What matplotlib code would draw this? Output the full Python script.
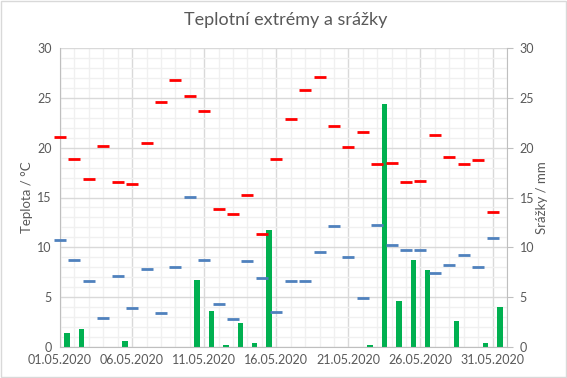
import matplotlib
matplotlib.use("Agg")
import matplotlib.pyplot as plt
from matplotlib.patches import Rectangle
from matplotlib.ticker import MultipleLocator
import numpy as np

# data (01.05.2020 - 31.05.2020)
dates = ["%02d.05.2020" % d for d in range(1, 32)]
t_max = [21.1, 18.9, 16.9, 20.2, 16.6, 16.4, 20.5, 24.6, 26.8, 25.2,
         23.7, 13.8, 13.3, 15.3, 11.3, 18.9, 22.9, 25.8, 27.1, 22.2,
         20.1, 21.6, 18.4, 18.5, 16.6, 16.7, 21.3, 19.1, 18.4, 18.8,
         13.5]
t_min = [10.7, 8.7, 6.6, 2.9, 7.1, 3.9, 7.8, 3.4, 8.0, 15.1,
         8.7, 4.3, 2.8, 8.6, 6.9, 3.5, 6.6, 6.6, 9.5, 12.1,
         9.0, 4.9, 12.2, 10.2, 9.7, 9.7, 7.4, 8.2, 9.2, 8.0,
         10.9]
precip = [1.4, 1.8, 0.0, 0.0, 0.6, 0.0, 0.0, 0.0, 0.0, 6.7,
          3.6, 0.2, 2.4, 0.4, 11.7, 0.0, 0.0, 0.0, 0.0, 0.0,
          0.0, 0.2, 24.4, 4.6, 8.7, 7.7, 0.0, 2.6, 0.0, 0.4,
          4.0]

plt.rcParams['font.family'] = ['Lato', 'DejaVu Sans']
txt = '#595959'
grid_major = '#d9d9d9'
grid_minor = '#f0f0f0'

fig = plt.figure(figsize=(5.67, 3.78), dpi=100)
ax = fig.add_axes([60 / 567, 1 - 347 / 378, 447 / 567, 299 / 378])
ax2 = ax.twinx()

x = np.arange(len(dates))

# precipitation bars sit between the date ticks
ax.bar(x + 0.5, precip, width=0.38, color='#00b050', zorder=2)
ax.plot(x, t_max, linestyle='none', marker='_', markersize=8.8,
        markeredgewidth=2.0, color='#ff0000', zorder=3, clip_on=False)
ax.plot(x, t_min, linestyle='none', marker='_', markersize=8.8,
        markeredgewidth=2.0, color='#4f81bd', zorder=3, clip_on=False)

ax.set_xlim(0, len(dates))
ax.set_ylim(0, 30)
ax2.set_ylim(0, 30)

ax.xaxis.set_minor_locator(MultipleLocator(1))
ax.set_xticks(x[::5])
ax.set_xticklabels(dates[::5])
ax.yaxis.set_major_locator(MultipleLocator(5))
ax.yaxis.set_minor_locator(MultipleLocator(1))
ax2.yaxis.set_major_locator(MultipleLocator(5))

ax.grid(which='major', color=grid_major, linewidth=1.0, zorder=0)
ax.grid(which='minor', color=grid_minor, linewidth=1.0, zorder=0)
ax.set_axisbelow(True)

for a in (ax, ax2):
    for s in a.spines.values():
        s.set_visible(False)
ax.spines['left'].set_visible(True)
ax.spines['left'].set_color('#bfbfbf')
ax.spines['bottom'].set_visible(True)
ax.spines['bottom'].set_color('#bfbfbf')
ax2.spines['right'].set_visible(True)
ax2.spines['right'].set_color('#bfbfbf')

ax.tick_params(which='both', length=0, labelsize=9, colors=txt, pad=6)
ax.tick_params(axis='x', pad=5)
ax2.tick_params(which='major', length=4, color='#bfbfbf', labelsize=9,
                labelcolor=txt, pad=5)
ax2.tick_params(which='minor', length=0)

ax.set_ylabel('Teplota / °C', fontsize=9.5, color=txt)
ax2.set_ylabel('Srážky / mm', fontsize=9.5, color=txt, rotation=90)
ax.yaxis.set_label_coords(-27 / 447, 0.5)
ax2.yaxis.set_label_coords(1 + 29 / 447, 0.5)

fig.text(0.503, 1 - 20 / 378, 'Teplotní extrémy a srážky', ha='center',
         va='center', fontsize=13, color=txt)

fig.patches.append(Rectangle((0.001, 0.002), 0.997, 0.995, transform=fig.transFigure,
                             fill=False, edgecolor='#d9d9d9', linewidth=1.0))

fig.savefig('out.png', dpi=100, facecolor='white')
